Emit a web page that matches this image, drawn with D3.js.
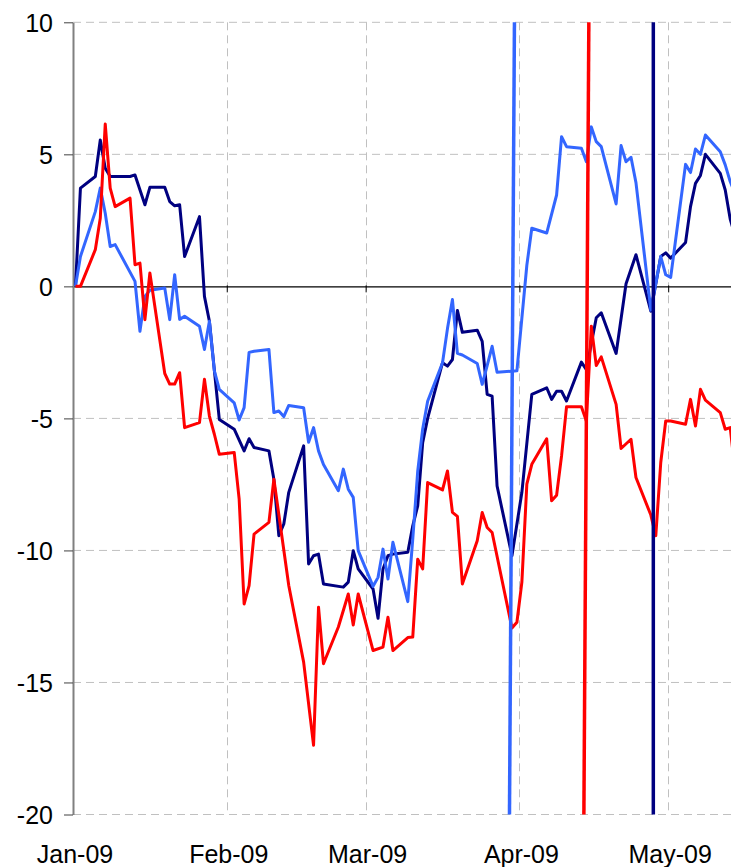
<!DOCTYPE html>
<html>
<head>
<meta charset="utf-8">
<script src="https://cdn.jsdelivr.net/npm/d3@7"></script>
<style>
  html, body { margin: 0; padding: 0; background: #fff; }
  svg { display: block; }
  text { font-family: "Liberation Sans", Arial, sans-serif; }
</style>
</head>
<body>
<svg id="chart" width="731" height="867"></svg>
<script>
// ---------------- data ----------------
const monthTicks = ["2009-01-01", "2009-02-01", "2009-03-01", "2009-04-01", "2009-05-01"];
const monthLabels = ["Jan-09", "Feb-09", "Mar-09", "Apr-09", "May-09"];
const yTicks = [-20, -15, -10, -5, 0, 5, 10];

const navyDates = ["01-01","01-02","01-05","01-06","01-07","01-08","01-12","01-13","01-15","01-16","01-19","01-20","01-21","01-22","01-23","01-26","01-27","01-28","01-30",
  "02-02","02-04","02-05","02-06","02-09","02-10","02-11","02-12","02-13","02-16","02-17","02-18","02-19","02-20","02-24","02-25","02-26","02-27",
  "03-02","03-03","03-04","03-05","03-06","03-09","03-10","03-11","03-12","03-13","03-16","03-17","03-18","03-19","03-20","03-23","03-24","03-25","03-26","03-27","03-30",
  "04-01","04-03","04-06","04-07","04-08","04-09","04-10","04-13","04-14","04-16","04-17","04-20","04-22","04-24","04-27","04-29","04-30",
  "05-01","05-04","05-05","05-06","05-07","05-08","05-11","05-12","05-13","05-14"];
const navyValues = [0,3.72,4.16,5.54,4.47,4.16,4.16,4.22,3.09,3.75,3.75,3.21,3.05,3.09,1.13,2.64,-0.38,-1.32,-5.04,
  -5.41,-6.23,-5.77,-6.1,-6.23,-7.3,-9.44,-9.0,-7.8,-6.04,-10.51,-10.2,-10.14,-11.27,-11.39,-11.2,-10.01,-10.7,
  -11.46,-12.57,-10.7,-10.2,-10.14,-10.07,-9.07,-8.31,-5.92,-5.0,-2.89,-3.02,-2.77,-0.91,-1.74,-1.66,-2.08,-4.09,-4.16,-7.56,-10.2,
  -7.8,-4.09,-3.84,-4.28,-3.97,-3.97,-4.34,-2.87,-3.15,-1.19,-1.0,-2.54,0.1,1.2,-0.94,1.13,1.27,
  1.07,1.66,3.02,3.9,4.2,5.0,4.28,3.65,2.55,1.9];

const blueDates = ["01-01","01-02","01-05","01-06","01-07","01-08","01-09","01-13","01-14","01-15","01-16","01-19","01-20","01-21","01-22","01-23","01-26","01-27","01-28","01-29","01-30",
  "02-02","02-03","02-04","02-05","02-06","02-09","02-10","02-11","02-12","02-13","02-16","02-17","02-18","02-19","02-20","02-23","02-24","02-25","02-26","02-27",
  "03-02","03-03","03-04","03-05","03-06","03-09","03-10","03-11","03-12","03-13","03-16","03-17","03-18","03-19","03-20","03-23","03-24","03-25","03-26","03-27","03-30","03-31",
  "04-01","04-02","04-03","04-06","04-08","04-09","04-10","04-13","04-14","04-15","04-16","04-17","04-20","04-21","04-22","04-23","04-24","04-27","04-29","04-30",
  "05-01","05-04","05-05","05-06","05-07","05-08","05-11","05-12","05-13","05-14"];
const blueValues = [0,1.13,2.83,3.72,2.77,1.51,1.58,0.19,-1.7,-0.38,-0.15,-0.06,-1.26,0.44,-1.25,-1.13,-1.51,-2.39,-1.32,-3.2,-3.9,
  -4.41,-5.06,-4.59,-2.5,-2.46,-2.39,-4.78,-4.72,-4.93,-4.51,-4.6,-5.9,-5.35,-6.23,-6.75,-7.74,-6.92,-7.68,-7.99,-10.01,
  -11.36,-11.02,-9.95,-11.08,-9.69,-11.94,-9.57,-7.0,-5.4,-4.35,-2.89,-1.6,-0.5,-2.54,-2.6,-2.92,-3.71,-3.0,-2.27,-3.25,-3.21,-3.2,
  -1.2,0.8,2.2,2.02,3.46,5.67,5.29,5.23,4.72,6.04,5.48,5.29,3.12,5.33,4.72,4.89,3.93,-0.9,1.13,0.44,
  0.34,4.62,4.31,5.2,5.0,5.73,5.1,4.6,3.97,3.5];

const redDates = ["01-01","01-02","01-05","01-06","01-07","01-08","01-09","01-12","01-13","01-14","01-15","01-16","01-19","01-20","01-21","01-22","01-23","01-26","01-27","01-28","01-29","01-30",
  "02-02","02-03","02-04","02-05","02-06","02-09","02-10","02-13","02-16","02-18","02-19","02-20","02-23","02-25","02-26","02-27",
  "03-02","03-04","03-05","03-06","03-09","03-10","03-11","03-12","03-13","03-16","03-17","03-18","03-19","03-20","03-23","03-24","03-25","03-26","03-30","03-31",
  "04-01","04-02","04-03","04-06","04-07","04-08","04-09","04-10","04-13","04-14","04-15","04-16","04-17","04-20","04-21","04-23","04-24","04-27","04-28","04-29","04-30",
  "05-01","05-04","05-05","05-06","05-07","05-08","05-11","05-12","05-13","05-14"];
const redValues = [0,0,1.39,2.58,6.15,3.72,3.02,3.34,0.82,0.88,-1.26,0.51,-3.3,-3.7,-3.7,-3.27,-5.35,-5.16,-3.52,-4.91,-5.6,-6.36,
  -6.29,-8.06,-12.03,-11.33,-9.38,-8.94,-7.3,-11.33,-14.23,-17.38,-12.15,-14.29,-12.9,-11.65,-12.82,-11.65,
  -13.79,-13.66,-12.53,-13.79,-13.3,-13.28,-10.33,-10.7,-7.43,-7.71,-6.99,-8.56,-8.71,-11.27,-9.63,-8.56,-9.13,-9.32,-12.94,-12.72,
  -11.2,-7.49,-6.74,-5.77,-8.12,-7.91,-6.42,-4.56,-4.56,-5.1,-1.51,-3.0,-2.67,-4.47,-6.14,-5.79,-7.24,-8.66,-9.44,-6.67,-5.1,
  -5.1,-5.22,-4.28,-5.29,-3.9,-4.31,-4.78,-5.41,-5.35,-7.0];

// vertical event markers (drawn across the whole value range)
const blueMarkerDates = ["03-30", "03-31"];
const redMarkerDates  = ["04-14", "04-15"];
const navyMarkerDates = ["04-28", "04-28"];
const markerValues = [-20, 10];

// ---------------- chart ----------------
const svg = d3.select("#chart");
const W = 731;
const parse = d3.timeParse("%Y-%m-%d");
const md = s => parse("2009-" + s);

const x = d3.scaleTime()
  .domain([parse("2009-01-01"), parse("2009-05-14")])
  .range([73, 73 + 133 * 4.96]);
const y = d3.scaleLinear().domain([-20, 10]).range([814.5, 22.3]);

const gridColor = "#c0c0c0";
const fontSize = 25;

// horizontal gridlines
svg.append("g").selectAll("line")
  .data(yTicks.filter(v => v !== 0))
  .join("line")
  .attr("x1", 73).attr("x2", W)
  .attr("y1", d => y(d)).attr("y2", d => y(d))
  .attr("stroke", gridColor).attr("stroke-width", 1)
  .attr("stroke-dasharray", "8,5");

// vertical gridlines
svg.append("g").selectAll("line")
  .data(monthTicks.slice(1).map(parse))
  .join("line")
  .attr("x1", d => Math.round(x(d)) + 0.5).attr("x2", d => Math.round(x(d)) + 0.5)
  .attr("y1", y(10)).attr("y2", y(-20))
  .attr("stroke", gridColor).attr("stroke-width", 1)
  .attr("stroke-dasharray", "8,5");

// x axis at zero (ticks only, labels at bottom)
const xAxis = d3.axisBottom(x)
  .tickValues(monthTicks.map(parse))
  .tickSize(7).tickSizeOuter(0)
  .tickFormat("");
const gx = svg.append("g")
  .attr("transform", `translate(0,${y(0)})`)
  .call(xAxis);
gx.select(".domain").attr("stroke", "#000").attr("stroke-width", 1.2);
gx.selectAll(".tick line").attr("stroke", "#000").attr("transform", "translate(0,-1)");

// x labels
svg.append("g").selectAll("text")
  .data(monthTicks.map((d, i) => ({ d: parse(d), label: monthLabels[i] })))
  .join("text")
  .attr("x", d => x(d.d) + 2)
  .attr("y", 863)
  .attr("text-anchor", "middle")
  .attr("font-size", fontSize)
  .attr("fill", "#000")
  .text(d => d.label);

// y axis
const yAxis = d3.axisLeft(y).tickValues(yTicks).tickSize(9).tickSizeOuter(0).tickPadding(11)
  .tickFormat(d3.format("d"));
const gy = svg.append("g").attr("transform", "translate(73,0)").call(yAxis);
gy.select(".domain").attr("stroke", "#808080").attr("stroke-width", 2);
gy.selectAll(".tick line").attr("stroke", "#404040");
gy.selectAll(".tick text")
  .attr("font-size", fontSize)
  .attr("font-family", '"Liberation Sans", Arial, sans-serif')
  .attr("fill", "#000")
  .attr("dy", "0.36em")
  .text(d => d < 0 ? "-" + Math.abs(d) : d);

// series
const ptX = d => x(d3.timeHour.offset(d, 12));
const line = d3.line().x(d => ptX(d.date)).y(d => y(d.value)).curve(d3.curveLinear);
const mk = (dates, values) => dates.map((s, i) => ({ date: md(s), value: values[i] }));

const series = [
  { color: "#000080", data: mk(navyDates, navyValues) },
  { color: "#3366FF", data: mk(blueDates, blueValues) },
  { color: "#FF0000", data: mk(redDates, redValues) }
];

svg.append("defs").append("clipPath").attr("id", "plot")
  .append("rect").attr("x", 73).attr("y", 0).attr("width", W - 73).attr("height", 867);

const plot = svg.append("g").attr("clip-path", "url(#plot)");
plot.selectAll("path.series")
  .data(series)
  .join("path")
  .attr("class", "series")
  .attr("fill", "none")
  .attr("stroke", d => d.color)
  .attr("stroke-width", 3)
  .attr("stroke-linejoin", "round")
  .attr("d", d => line(d.data));

// event markers
const markerLine = d3.line().x(d => x(d.date)).y(d => y(d.value));
const markers = [
  { color: "#3366FF", data: mk(blueMarkerDates, markerValues) },
  { color: "#FF0000", data: mk(redMarkerDates, markerValues) },
  { color: "#000080", data: mk(navyMarkerDates, markerValues) }
];
plot.selectAll("path.marker")
  .data(markers)
  .join("path")
  .attr("class", "marker")
  .attr("fill", "none")
  .attr("stroke", d => d.color)
  .attr("stroke-width", 3.5)
  .attr("d", d => markerLine(d.data));
</script>
</body>
</html>
